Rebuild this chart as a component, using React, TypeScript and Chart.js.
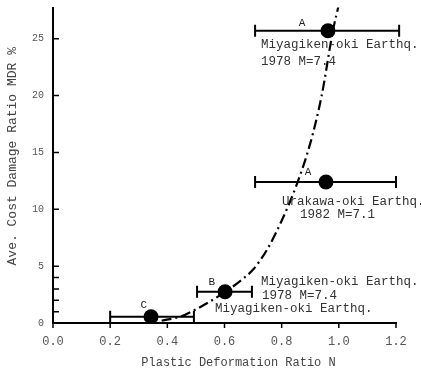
import React, { useEffect, useRef } from "react";
import { Chart, registerables } from "chart.js";

Chart.register(...registerables);

// Observed points (mean plastic deformation ratio vs. damage ratio)
const pointLabels = ["A", "A", "B", "C"];
const pointX = [0.962, 0.955, 0.602, 0.343];
const pointY = [25.7, 12.4, 2.75, 0.55];
// Horizontal scatter ranges
const errLow = [0.707, 0.707, 0.504, 0.2];
const errHigh = [1.211, 1.2, 0.696, 0.493];
// Letter label anchors (data units)
const letterX = [0.871, 0.892, 0.556, 0.318];
const letterY = [26.4, 13.3, 3.6, 1.6];

// Fitted dash-dot curve
const curveX = [0.38, 0.45, 0.5, 0.55, 0.6, 0.65, 0.7, 0.75, 0.8, 0.85, 0.9, 0.94, 0.98, 1.0];
const curveY = [0.2, 0.6, 1.2, 1.9, 2.7, 3.6, 4.7, 6.5, 9.0, 12.0, 15.8, 20.0, 25.8, 28.0];

// Annotation texts
const noteText = [
  "Miyagiken-oki Earthq.",
  "1978 M=7.4",
  "Urakawa-oki Earthq.",
  "1982 M=7.1",
  "Miyagiken-oki Earthq.",
  "1978 M=7.4",
  "Miyagiken-oki Earthq.",
];
const noteX = [0.728, 0.728, 0.801, 0.864, 0.728, 0.731, 0.567];
const noteY = [24.5, 23.0, 10.7, 9.5, 3.6, 2.37, 1.23];

const xTicks = [0, 0.2, 0.4, 0.6, 0.8, 1.0, 1.2];
const yTicks = [0, 5, 10, 15, 20, 25];
const yMinorTicks = [1, 2, 3, 4];

const xTitle = "Plastic Deformation Ratio N";
const yTitle = "Ave. Cost Damage Ratio MDR %";

const FONT = "'Liberation Mono', 'DejaVu Sans Mono', monospace";

const overlay = {
  id: "overlay",
  beforeDatasetsDraw(chart: any) {
    const { ctx, chartArea } = chart;
    const x = chart.scales.x;
    const y = chart.scales.y;
    ctx.save();
    ctx.strokeStyle = "#000";
    ctx.lineWidth = 2;
    for (let i = 0; i < pointX.length; i++) {
      const py = y.getPixelForValue(pointY[i]);
      const x1 = x.getPixelForValue(errLow[i]);
      const x2 = x.getPixelForValue(errHigh[i]);
      ctx.beginPath();
      ctx.moveTo(x1, py);
      ctx.lineTo(x2, py);
      ctx.moveTo(x1, py - 6);
      ctx.lineTo(x1, py + 6);
      ctx.moveTo(x2, py - 6);
      ctx.lineTo(x2, py + 6);
      ctx.stroke();
    }
    // inward y ticks
    ctx.lineWidth = 1.5;
    ctx.beginPath();
    yTicks.concat(yMinorTicks).forEach((v) => {
      const py = y.getPixelForValue(v);
      ctx.moveTo(chartArea.left, py);
      ctx.lineTo(chartArea.left + 6, py);
    });
    // outward x ticks
    xTicks.forEach((v) => {
      const px = x.getPixelForValue(v);
      ctx.moveTo(px, chartArea.bottom);
      ctx.lineTo(px, chartArea.bottom + 5);
    });
    ctx.stroke();
    ctx.restore();
  },
  afterDatasetsDraw(chart: any) {
    const { ctx, chartArea } = chart;
    const x = chart.scales.x;
    const y = chart.scales.y;
    ctx.save();
    ctx.fillStyle = "#222";
    ctx.textBaseline = "middle";
    ctx.font = `11px ${FONT}`;
    ctx.textAlign = "center";
    for (let i = 0; i < pointLabels.length; i++) {
      ctx.fillText(pointLabels[i], x.getPixelForValue(letterX[i]), y.getPixelForValue(letterY[i]));
    }
    ctx.font = `12.5px ${FONT}`;
    ctx.textAlign = "left";
    ctx.fillStyle = "#333";
    for (let i = 0; i < noteText.length; i++) {
      ctx.fillText(noteText[i], x.getPixelForValue(noteX[i]), y.getPixelForValue(noteY[i]));
    }
    // axis titles
    ctx.fillStyle = "#444";
    ctx.textAlign = "center";
    ctx.font = `12px ${FONT}`;
    ctx.fillText(xTitle, (chartArea.left + chartArea.right) / 2 + 14, chartArea.bottom + 40);
    ctx.translate(13, (chartArea.top + chartArea.bottom) / 2 - 9);
    ctx.rotate(-Math.PI / 2);
    ctx.font = `13px ${FONT}`;
    ctx.fillText(yTitle, 0, 0);
    ctx.restore();
  },
};

export default function App() {
  const ref = useRef<HTMLCanvasElement | null>(null);

  useEffect(() => {
    if (!ref.current) return;
    const chart = new Chart(ref.current, {
      type: "scatter",
      data: {
        datasets: [
          {
            type: "line",
            data: curveX.map((v, i) => ({ x: v, y: curveY[i] })),
            borderColor: "#000",
            borderWidth: 2.2,
            borderDash: [10, 4, 2, 4],
            pointRadius: 0,
            cubicInterpolationMode: "monotone",
            fill: false,
          } as any,
          {
            type: "scatter",
            data: pointX.map((v, i) => ({ x: v, y: pointY[i] })),
            backgroundColor: "#000",
            borderColor: "#000",
            borderWidth: 0,
            pointRadius: 7.5,
          } as any,
        ],
      },
      options: {
        responsive: false,
        animation: false,
        layout: { padding: { top: 1, right: 25, left: 0, bottom: 0 } },
        plugins: { legend: { display: false }, tooltip: { enabled: false } },
        scales: {
          x: {
            type: "linear",
            min: 0,
            max: 1.2,
            afterBuildTicks: (s: any) => {
              s.ticks = xTicks.map((v) => ({ value: v }));
            },
            afterFit: (s: any) => {
              s.height = 49;
              s.paddingLeft = 0;
              s.paddingRight = 0;
            },
            grid: { display: false, drawTicks: false },
            border: { display: true, color: "#000", width: 2 },
            ticks: {
              padding: 12,
              color: "#555",
              font: { family: FONT, size: 12 },
              callback: (v: any) => Number(v).toFixed(1),
              maxRotation: 0,
            },
          },
          y: {
            type: "linear",
            min: 0,
            max: 27.75,
            afterBuildTicks: (s: any) => {
              s.ticks = yTicks.map((v) => ({ value: v }));
            },
            afterFit: (s: any) => {
              s.width = 53;
              s.paddingTop = 0;
              s.paddingBottom = 0;
            },
            grid: { display: false, drawTicks: false },
            border: { display: true, color: "#000", width: 2 },
            ticks: {
              padding: 9,
              color: "#555",
              font: { family: FONT, size: 10 },
            },
          },
        },
      },
      plugins: [overlay],
    });
    return () => chart.destroy();
  }, []);

  return (
    <div style={{ position: "fixed", left: 0, top: 0, width: 421, height: 372, background: "#fff" }}>
      <canvas ref={ref} width={421} height={372} style={{ display: "block" }} />
    </div>
  );
}
